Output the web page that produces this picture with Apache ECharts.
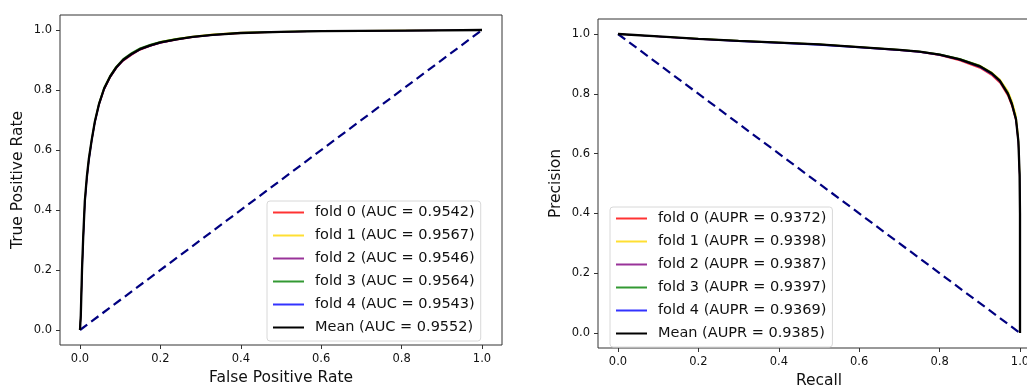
<!DOCTYPE html>
<html>
<head>
<meta charset="utf-8">
<script src="https://cdn.jsdelivr.net/npm/echarts@6/dist/echarts.min.js"></script>
<style>
  html, body {margin: 0; padding: 0; background: #fff;}
  #chart {width: 1027px; height: 387px;}
</style>
</head>
<body>
<div id="chart"></div>
<script>
// ROC curves (fpr shared by all folds)
const rocFpr = [0, 0.002, 0.005, 0.008, 0.012, 0.017, 0.022, 0.029, 0.037, 0.047, 0.06, 0.075, 0.09, 0.107, 0.128, 0.149, 0.175, 0.2, 0.24, 0.28, 0.33, 0.4, 0.5, 0.6, 0.7, 0.8, 0.9, 1]
const rocFold0 = [0, 0.05, 0.19, 0.30, 0.42, 0.50, 0.565, 0.628, 0.69, 0.748, 0.80, 0.841, 0.871, 0.896, 0.916, 0.933, 0.946, 0.956, 0.967, 0.975, 0.983, 0.989, 0.994, 0.996, 0.997, 0.998, 0.999, 1]
const rocFold1 = [0, 0.05, 0.2, 0.31, 0.43, 0.51, 0.572, 0.636, 0.698, 0.756, 0.808, 0.848, 0.878, 0.902, 0.922, 0.938, 0.951, 0.961, 0.971, 0.979, 0.986, 0.992, 0.995, 0.997, 0.998, 0.999, 0.999, 1]
const rocFold2 = [0, 0.05, 0.2, 0.305, 0.425, 0.505, 0.566, 0.63, 0.692, 0.75, 0.802, 0.842, 0.872, 0.897, 0.917, 0.934, 0.947, 0.957, 0.968, 0.976, 0.983, 0.99, 0.994, 0.996, 0.997, 0.998, 0.999, 1]
const rocFold3 = [0, 0.05, 0.2, 0.31, 0.432, 0.512, 0.574, 0.636, 0.698, 0.756, 0.809, 0.849, 0.879, 0.904, 0.924, 0.94, 0.952, 0.961, 0.971, 0.978, 0.985, 0.991, 0.995, 0.997, 0.998, 0.998, 0.999, 1]
const rocFold4 = [0, 0.045, 0.18, 0.295, 0.415, 0.5, 0.562, 0.628, 0.69, 0.749, 0.802, 0.843, 0.873, 0.898, 0.918, 0.934, 0.947, 0.957, 0.968, 0.976, 0.983, 0.99, 0.994, 0.996, 0.997, 0.998, 0.999, 1]
const rocMean = [0, 0.05, 0.2, 0.31, 0.43, 0.51, 0.57, 0.633, 0.695, 0.752, 0.805, 0.845, 0.875, 0.9, 0.92, 0.936, 0.949, 0.959, 0.969, 0.977, 0.984, 0.99, 0.994, 0.996, 0.997, 0.998, 0.999, 1]
const rocNames = ['fold 0 (AUC = 0.9542)', 'fold 1 (AUC = 0.9567)', 'fold 2 (AUC = 0.9546)', 'fold 3 (AUC = 0.9564)', 'fold 4 (AUC = 0.9543)', 'Mean (AUC = 0.9552)']

// PR curves (recall shared by all folds)
const prRecall = [0, 0.1, 0.2, 0.3, 0.4, 0.5, 0.6, 0.7, 0.75, 0.8, 0.85, 0.9, 0.93, 0.95, 0.97, 0.98, 0.99, 0.996, 0.999, 1.0, 1.0]
const prFold0 = [1.0, 0.991, 0.983, 0.976, 0.97, 0.964, 0.955, 0.945, 0.939, 0.928, 0.911, 0.886, 0.861, 0.836, 0.792, 0.757, 0.708, 0.63, 0.52, 0.4, 0.0]
const prFold1 = [1.0, 0.992, 0.985, 0.978, 0.972, 0.966, 0.957, 0.948, 0.942, 0.932, 0.917, 0.895, 0.872, 0.849, 0.81, 0.778, 0.73, 0.66, 0.55, 0.4, 0.0]
const prFold2 = [1.0, 0.992, 0.984, 0.977, 0.971, 0.965, 0.956, 0.947, 0.941, 0.931, 0.915, 0.891, 0.867, 0.842, 0.8, 0.765, 0.715, 0.64, 0.53, 0.4, 0.0]
const prFold3 = [1.0, 0.992, 0.985, 0.978, 0.972, 0.966, 0.957, 0.948, 0.942, 0.933, 0.918, 0.895, 0.871, 0.846, 0.805, 0.77, 0.72, 0.645, 0.535, 0.4, 0.0]
const prFold4 = [1.0, 0.991, 0.983, 0.975, 0.969, 0.963, 0.954, 0.945, 0.939, 0.929, 0.913, 0.889, 0.865, 0.84, 0.798, 0.762, 0.712, 0.635, 0.525, 0.4, 0.0]
const prMean = [1.0, 0.992, 0.984, 0.977, 0.971, 0.965, 0.956, 0.947, 0.941, 0.931, 0.915, 0.892, 0.868, 0.843, 0.8, 0.765, 0.715, 0.64, 0.53, 0.4, 0.0]
const prNames = ['fold 0 (AUPR = 0.9372)', 'fold 1 (AUPR = 0.9398)', 'fold 2 (AUPR = 0.9387)', 'fold 3 (AUPR = 0.9397)', 'fold 4 (AUPR = 0.9369)', 'Mean (AUPR = 0.9385)']

const rocDiag = [[0, 0], [1, 1]]
const prDiag = [[0, 1], [1, 0]]

const colors = ['rgba(255,0,0,0.8)', 'rgba(255,215,0,0.8)', 'rgba(128,0,128,0.8)', 'rgba(0,128,0,0.8)', 'rgba(0,0,255,0.8)', '#000']
const font = 'DejaVu Sans'

const pair = (xs, ys) => xs.map((x, i) => [x, ys[i]])

// data axes sit inside the frame, pushed out to the frame edge with offset
const dataAxis = (gridIndex, name, isX) => ({
  type: 'value',
  gridIndex,
  min: 0,
  max: 1,
  interval: 0.2,
  offset: isX ? 15 : 20,
  name,
  nameLocation: 'middle',
  nameGap: isX ? 22 : 34,
  nameTextStyle: {fontFamily: font, fontSize: 15.5, color: '#111'},
  axisLine: {show: false, onZero: false},
  axisTick: {show: true, length: 4, lineStyle: {color: '#333', width: 1}},
  axisLabel: {
    fontFamily: font, fontSize: 11.5, color: '#111', margin: 8,
    formatter: v => v.toFixed(1)
  },
  splitLine: {show: false}
})
const frameAxis = gridIndex => ({type: 'value', gridIndex, show: false, min: 0, max: 1})

const makeLegend = (names, left, top) => ({
  data: names,
  orient: 'vertical',
  left, top,
  padding: [4, 6, 6, 5],
  itemWidth: 31,
  itemHeight: 14,
  itemGap: 8,
  backgroundColor: '#fff',
  borderColor: '#d8d8d8',
  borderWidth: 1,
  borderRadius: 3,
  itemStyle: {opacity: 0},
  textStyle: {fontFamily: font, fontSize: 14.5, color: '#111', padding: [0, 0, 0, 6]}
})

const curves = (names, xs, ys, idx) => ys.map((arr, i) => ({
  name: names[i],
  type: 'line',
  xAxisIndex: idx,
  yAxisIndex: idx,
  data: pair(xs, arr),
  symbol: 'none',
  silent: true,
  clip: false,
  z: 3,
  lineStyle: {color: colors[i], width: i === 5 ? 2.3 : 1.2},
  itemStyle: {color: colors[i]}
}))

const diag = (data, idx) => ({
  type: 'line',
  xAxisIndex: idx,
  yAxisIndex: idx,
  data,
  symbol: 'none',
  silent: true,
  clip: false,
  z: 2,
  lineStyle: {color: '#000080', width: 2.2, type: [9, 5]}
})

const frame = {show: true, borderColor: '#333', borderWidth: 1, backgroundColor: 'transparent'}

const chart = echarts.init(document.getElementById('chart'))
chart.setOption({
  animation: false,
  backgroundColor: '#fff',
  grid: [
    {left: 80, top: 30, width: 402, height: 300, outerBoundsMode: 'none'},
    {left: 60, top: 15, width: 442, height: 330, outerBoundsMode: 'none', ...frame},
    {left: 618, top: 34, width: 402, height: 299, outerBoundsMode: 'none'},
    {left: 598, top: 19, width: 442, height: 329, outerBoundsMode: 'none', ...frame}
  ],
  xAxis: [dataAxis(0, 'False Positive Rate', true), frameAxis(1), dataAxis(2, 'Recall', true), frameAxis(3)],
  yAxis: [dataAxis(0, 'True Positive Rate', false), frameAxis(1), dataAxis(2, 'Precision', false), frameAxis(3)],
  legend: [makeLegend(rocNames, 267, 201), makeLegend(prNames, 610, 207)],
  series: [
    diag(rocDiag, 0),
    ...curves(rocNames, rocFpr, [rocFold0, rocFold1, rocFold2, rocFold3, rocFold4, rocMean], 0),
    diag(prDiag, 2),
    ...curves(prNames, prRecall, [prFold0, prFold1, prFold2, prFold3, prFold4, prMean], 2)
  ]
})
</script>
</body>
</html>
